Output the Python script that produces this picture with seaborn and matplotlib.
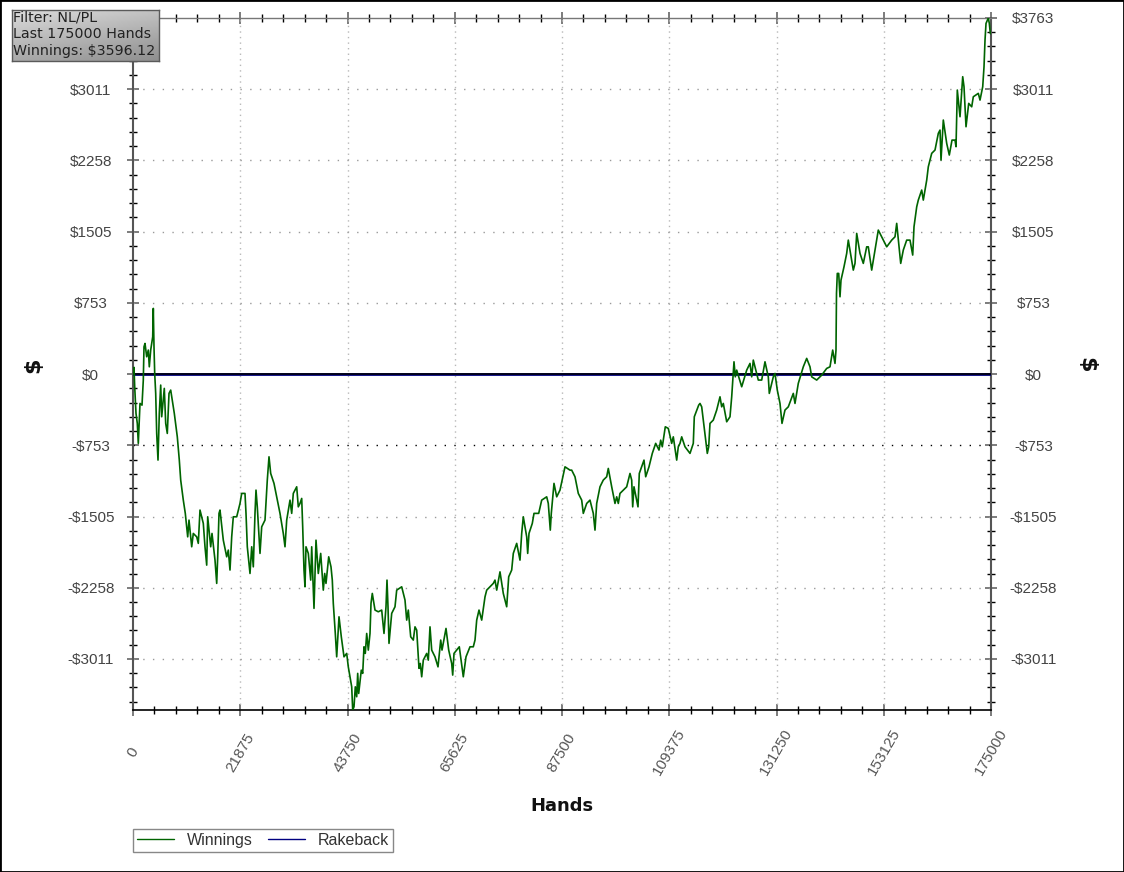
import matplotlib
matplotlib.use("Agg")
import numpy as np
import pandas as pd
import matplotlib.pyplot as plt
import seaborn as sns
from matplotlib.ticker import FixedLocator, MultipleLocator
from matplotlib.patches import Rectangle
from matplotlib.lines import Line2D

# ---------------- data ----------------
hands = [
    0, 204, 347, 612, 877, 1081, 1428, 1836, 2101, 2244,
    2448, 2794, 3121, 3325, 3610, 4018, 4141, 4283, 4426, 4630,
    4834, 5099, 5364, 5650, 5854, 6384, 6670, 6996, 7343, 7690,
    8016, 8424, 9036, 9444, 9729, 10260, 10667, 11157, 11422, 11973,
    12299, 12993, 13319, 13665, 14339, 14685, 15032, 15236, 15848, 16113,
    16725, 17072, 17276, 17541, 17745, 18418, 19111, 19438, 19784, 20131,
    20458, 21151, 21824, 22171, 22844, 23048, 23313, 23864, 24211, 24537,
    24883, 25087, 25352, 25903, 26250, 26923, 27392, 27739, 28085, 28758,
    29309, 29982, 30655, 31002, 31349, 32022, 32369, 32695, 33388, 33715,
    34061, 34408, 34612, 34877, 35081, 35285, 35754, 36244, 36448, 36917,
    37325, 37794, 38283, 38814, 39099, 39364, 39915, 40384, 40649, 40853,
    41261, 41547, 42016, 42485, 43036, 43586, 43913, 44260, 44606, 44810,
    45075, 45341, 45626, 45830, 46034, 46564, 46850, 47115, 47380, 47666,
    47992, 48339, 48543, 48808, 49359, 50032, 50725, 50929, 51194, 51602,
    51806, 52010, 52214, 52765, 53438, 53785, 54805, 55477, 55824, 56151,
    56640, 57170, 57517, 57864, 58333, 58598, 58884, 59210, 59904, 60230,
    60577, 60924, 61597, 62209, 62760, 63025, 63841, 64391, 65003, 65207,
    65472, 66553, 67104, 67369, 67920, 68736, 69409, 69756, 70102, 70571,
    71122, 71795, 72142, 72814, 73487, 73834, 74181, 74853, 75526, 76220,
    76628, 77239, 77566, 78259, 78932, 79279, 79605, 80299, 80503, 80768,
    81441, 81788, 82747, 83358, 84378, 84704, 85112, 85316, 85867, 86418,
    87091, 87764, 88111, 89131, 89477, 90150, 90823, 91517, 91843, 92536,
    93209, 93882, 94229, 94576, 95249, 95922, 96615, 96942, 97636, 98309,
    98655, 98982, 99328, 100001, 100695, 101368, 101715, 101919, 102184, 103000,
    103265, 104224, 104570, 105243, 105916, 106610, 107283, 107630, 107956, 108568,
    109180, 109874, 110200, 110894, 111220, 111567, 111914, 112587, 113607, 114280,
    114484, 115381, 115646, 115993, 116319, 116666, 117135, 117421, 117686, 118359,
    119052, 119725, 120072, 120398, 121092, 121765, 122112, 122581, 122846, 123131,
    124151, 125171, 125844, 126191, 126517, 127537, 128230, 128903, 129576, 129780,
    130596, 130943, 131412, 131963, 132371, 132982, 133656, 134676, 135022, 135695,
    136715, 137408, 138082, 138428, 139448, 140468, 141488, 142161, 142712, 143181,
    143385, 143487, 143650, 143936, 144201, 144405, 145017, 145568, 145894, 146588,
    146914, 147261, 147608, 148281, 148954, 149647, 149974, 150667, 151340, 152013,
    153033, 153727, 154747, 155420, 155767, 156297, 156583, 157113, 157807, 158480,
    159031, 159296, 159847, 160173, 160867, 161193, 161887, 162213, 162907, 163580,
    164253, 164600, 164804, 165273, 165966, 166496, 167047, 167659, 167863, 168128,
    168679, 169230, 169495, 169903, 170454, 171066, 171392, 172412, 172759, 173310,
    173575, 173779, 173983, 174452, 174656, 174860, 175000,
]
winnings = [
    0, 71, -134, -415, -521, -732, -310, -328, -63, 289,
    324, 183, 254, 77, 254, 394, 694, 289, 7, -204,
    -627, -909, -415, -116, -451, -151, -521, -627, -204, -169,
    -275, -415, -663, -909, -1120, -1332, -1472, -1720, -1543, -1825,
    -1684, -1720, -1789, -1437, -1578, -1825, -2019, -1508, -1825, -1684,
    -1966, -2212, -1931, -1472, -1437, -1755, -1931, -1860, -2071, -1720,
    -1508, -1508, -1367, -1261, -1261, -1472, -1825, -2107, -1825, -2037,
    -1472, -1226, -1403, -1895, -1614, -1543, -1120, -874, -1050, -1155,
    -1297, -1472, -1684, -1825, -1543, -1332, -1472, -1261, -1191, -1403,
    -1367, -1314, -1614, -2071, -2248, -1825, -1895, -2177, -1825, -2476,
    -1755, -2107, -1895, -2283, -2107, -2212, -1931, -2037, -2177, -2423,
    -2741, -2988, -2565, -2776, -2988, -2952, -3094, -3199, -3305, -3550,
    -3516, -3305, -3410, -3163, -3375, -3129, -3163, -2882, -2952, -2741,
    -2917, -2741, -2423, -2318, -2494, -2512, -2494, -2600, -2741, -2459,
    -2177, -2459, -2846, -2529, -2459, -2283, -2248, -2388, -2600, -2494,
    -2776, -2811, -2671, -2706, -3110, -3058, -3199, -3023, -2952, -3023,
    -2671, -2917, -2988, -3094, -2811, -2917, -2688, -2917, -3058, -3181,
    -2952, -2882, -3094, -3199, -2988, -2882, -2882, -2811, -2600, -2494,
    -2600, -2354, -2283, -2248, -2212, -2177, -2283, -2090, -2318, -2459,
    -2142, -2071, -1895, -1789, -1966, -1684, -1508, -1720, -1895, -1684,
    -1578, -1472, -1472, -1332, -1297, -1367, -1649, -1472, -1155, -1297,
    -1226, -1067, -980, -1015, -1015, -1085, -1261, -1332, -1472, -1367,
    -1332, -1472, -1649, -1367, -1191, -1120, -1085, -997, -1191, -1367,
    -1297, -1367, -1261, -1226, -1191, -1050, -1120, -1403, -1191, -1403,
    -1050, -909, -1085, -980, -838, -732, -803, -698, -768, -557,
    -574, -732, -663, -909, -768, -732, -663, -768, -838, -732,
    -451, -328, -310, -346, -486, -627, -838, -768, -521, -486,
    -380, -240, -346, -310, -504, -451, -240, 130, -29, 42,
    -134, 42, 113, -29, 148, -63, -63, 130, -29, -204,
    -29, 7, -169, -310, -521, -380, -346, -204, -310, -98,
    77, 166, 77, -29, -63, -11, 60, 77, 254, 113,
    254, 853, 1064, 1064, 817, 993, 1134, 1276, 1416, 1205,
    1099, 1170, 1487, 1276, 1170, 1345, 1345, 1099, 1311, 1522,
    1416, 1345, 1416, 1451, 1593, 1311, 1170, 1311, 1416, 1416,
    1258, 1557, 1768, 1839, 1945, 1839, 2050, 2191, 2333, 2368,
    2544, 2579, 2262, 2685, 2438, 2315, 2473, 2473, 2403, 3002,
    2720, 3143, 3037, 2614, 2861, 2825, 2931, 2967, 2896, 3037,
    3248, 3530, 3706, 3763.4, 3706, 3600, 3596.12,
]
rakeback_hands = [0, 175000]
rakeback = [0, 0]

x_ticks = [0, 21875, 43750, 65625, 87500, 109375, 131250, 153125, 175000]
x_tick_labels = ["0", "21875", "43750", "65625", "87500", "109375", "131250", "153125", "175000"]
y_ticks = [-3010.7, -2258.0, -1505.4, -752.7, 0, 752.7, 1505.4, 2258.0, 3010.7, 3763.4]
y_tick_labels = ["-$3011", "-$2258", "-$1505", "-$753", "$0",
                 "$753", "$1505", "$2258", "$3011", "$3763"]
info_lines = ["Filter: NL/PL", "Last 175000 Hands", "Winnings: $3596.12"]

# ---------------- style ----------------
sns.set_theme(style="white")
plt.rcParams["font.family"] = ["Liberation Sans", "DejaVu Sans"]

W, H = 1124, 872
fig = plt.figure(figsize=(W / 100, H / 100), dpi=100)
fig.patch.set_facecolor("white")

L, R, T, B = 133, 991, 18, 710
ax = fig.add_axes([L / W, 1 - B / H, (R - L) / W, (B - T) / H])
ax.set_facecolor("white")

df_w = pd.DataFrame({"hands": hands, "value": winnings})
df_r = pd.DataFrame({"hands": rakeback_hands, "value": rakeback})

sns.lineplot(data=df_r, x="hands", y="value", ax=ax, color="#000080", lw=2.0,
             estimator=None, sort=False, zorder=3)
ax.axhline(0, color="black", lw=1.1, zorder=3.5)
sns.lineplot(data=df_w, x="hands", y="value", ax=ax, color="#006400", lw=1.2,
             estimator=None, sort=False, zorder=4)

ax.set_xlim(0, 175000)
ax.set_ylim(min(winnings), max(winnings))

# grid
for xv in x_ticks[1:-1]:
    ax.axvline(xv, color="#b8b8b8", lw=1.0, ls=(0, (1, 3)), zorder=1)
for yv, lab in zip(y_ticks, y_tick_labels):
    if yv == 0 or yv == y_ticks[-1]:
        continue
    c = "black" if lab == "-$753" else "#9a9a9a"
    ax.axhline(yv, color=c, lw=1.0, ls=(0, (1, 6)), zorder=1)

ax.xaxis.set_major_locator(FixedLocator(x_ticks))
ax.set_xticklabels(x_tick_labels)
ax.xaxis.set_minor_locator(MultipleLocator(4375))
ax.yaxis.set_major_locator(FixedLocator(y_ticks))
ax.set_yticklabels(y_tick_labels)
ax.yaxis.set_minor_locator(MultipleLocator(3763.4 / 25))

ax.tick_params(which="both", direction="inout", top=True, right=True,
               bottom=True, left=True, labelright=True)
ax.tick_params(which="major", length=9, width=1.2, color="#666666")
ax.tick_params(which="minor", length=6, width=1.0, color="black")
ax.tick_params(axis="y", which="major", pad=26, labelsize=11, labelcolor="#444444")
ax.tick_params(axis="x", which="major", pad=26, labelsize=11, labelcolor="#555555")
for lbl in ax.get_xticklabels():
    lbl.set_rotation(60)
    lbl.set_ha("center")
    lbl.set_va("center")
for tk in ax.yaxis.get_major_ticks():
    tk.label1.set_ha("center")
    tk.label2.set_ha("center")
# the top-left label sits under the info box in the reference
ax.yaxis.get_major_ticks()[-1].label1.set_visible(False)

ax.set_xlabel("")
ax.set_ylabel("")
for side in ["left", "right"]:
    ax.spines[side].set_color("#555555")
    ax.spines[side].set_linewidth(1.5)
ax.spines["top"].set_color("#777777")
ax.spines["top"].set_linewidth(1.0)
ax.spines["bottom"].set_color("black")
ax.spines["bottom"].set_linewidth(1.2)

# axis titles
fig.text(562 / W, 1 - 806 / H, "Hands", ha="center", va="center",
         fontsize=13, fontweight="bold", family="DejaVu Sans", color="#111111")
fig.text(33 / W, 1 - 365 / H, "$", ha="center", va="center", rotation=90,
         fontsize=16, fontweight="bold", family="DejaVu Sans", color="#111111")
fig.text(1086 / W, 1 - 365 / H, "$", ha="center", va="center", rotation=270,
         fontsize=16, fontweight="bold", family="DejaVu Sans", color="#111111")

# legend
handles = [Line2D([], [], color="#006400", lw=1.0),
           Line2D([], [], color="#000080", lw=1.0)]
leg = ax.legend(handles, ["Winnings", "Rakeback"], ncol=2, loc="upper left",
                bbox_to_anchor=(L / W, 1 - 829 / H), bbox_transform=fig.transFigure,
                frameon=True, fancybox=False, edgecolor="#888888", framealpha=1,
                borderaxespad=0, borderpad=0.25, handlelength=2.3,
                handletextpad=0.8, columnspacing=1.0, fontsize=11.5)
leg.get_frame().set_linewidth(1.0)
for t in leg.get_texts():
    t.set_color("#333333")

# info box with gradient
bx0, by0, bx1, by1 = 12, 10, 159, 61
ax_box = fig.add_axes([bx0 / W, 1 - by1 / H, (bx1 - bx0) / W, (by1 - by0) / H])
gx, gy = np.meshgrid(np.linspace(0, 1, 200), np.linspace(0, 1, 60))
grad = 0.86 - 0.20 * gy - 0.10 * gx
ax_box.imshow(grad, cmap="gray", vmin=0, vmax=1, extent=[0, 1, 0, 1],
              aspect="auto", origin="upper", interpolation="bilinear")
ax_box.set_xlim(0, 1)
ax_box.set_ylim(0, 1)
ax_box.set_xticks([])
ax_box.set_yticks([])
for s in ax_box.spines.values():
    s.set_color("#5a5a5a")
    s.set_linewidth(1.0)
for i, line in enumerate(info_lines):
    fig.text(13 / W, 1 - (17.5 + 17 * i) / H, line, ha="left", va="center",
             fontsize=10.3, family="DejaVu Sans", color="#222222")

# outer border
fig.patches.append(Rectangle((0, 0), 1, 1, transform=fig.transFigure, fill=False,
                             edgecolor="black", lw=2))

fig.savefig("out.png", dpi=100)
